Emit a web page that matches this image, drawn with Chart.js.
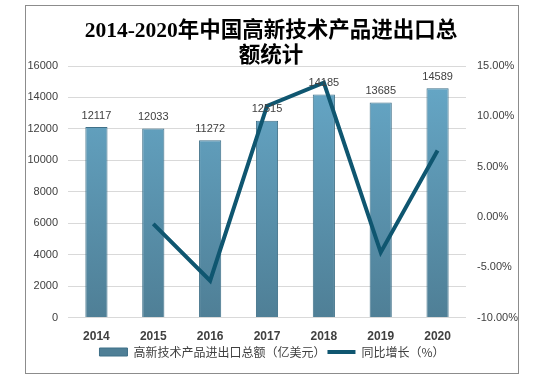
<!DOCTYPE html>
<html><head><meta charset="utf-8">
<script src="https://cdn.jsdelivr.net/npm/chart.js@4/dist/chart.umd.min.js"></script>
<style>
html,body{margin:0;padding:0;background:#fff;width:545px;height:380px;overflow:hidden}
#box{position:absolute;left:25px;top:5px;width:492px;height:367px;border:1px solid #8c8c8c;background:#fff}
</style></head><body>
<div id="box"><canvas id="c" width="492" height="367"></canvas></div>
<script>
const years = ['2014','2015','2016','2017','2018','2019','2020'];
const totalTrade = [12117,12033,11272,12515,14185,13685,14589];
const growthPct = [null,-0.69,-6.33,11.03,13.34,-3.52,6.61];
const leftTicks = [0,2000,4000,6000,8000,10000,12000,14000,16000];
const rightTicks = [-10,-5,0,5,10,15];
const titleLines = ['2014-2020年中国高新技术产品进出口总','额统计'];
const seriesNames = ['高新技术产品进出口总额（亿美元）','同比增长（%）'];

function barGrad(ctx){
  const ch = ctx.chart, a = ch.chartArea;
  if(!a) return '#5f9ab8';
  const g = ch.ctx.createLinearGradient(0,a.top,0,a.bottom);
  g.addColorStop(0,'#67a9c9');
  g.addColorStop(1,'#4f7f96');
  return g;
}
const labelPlugin = {
  id:'barLabels',
  afterDatasetsDraw(chart){
    const meta = chart.getDatasetMeta(1);
    const c = chart.ctx;
    c.save();
    c.font = '11px "Liberation Sans","Noto Sans CJK SC",sans-serif';
    c.fillStyle = '#404040';
    c.textAlign = 'center';
    c.textBaseline = 'bottom';
    meta.data.forEach((el,i)=>{ c.fillText(String(totalTrade[i]), el.x, el.y - 6); });
    c.restore();
  }
};
const titlePlugin = {
  id:'twoLineTitle',
  afterDraw(chart){
    const c = chart.ctx;
    c.save();
    c.font = 'bold 21.5px "Liberation Serif","Noto Sans CJK SC",serif';
    c.fillStyle = '#000';
    c.textAlign = 'center';
    c.textBaseline = 'middle';
    const cx = chart.width/2 - 1;
    c.fillText(titleLines[0], cx, 25);
    c.fillText(titleLines[1], cx, 50);
    c.restore();
  }
};
new Chart(document.getElementById('c'),{
  data:{
    labels:years,
    datasets:[
      {type:'line',label:seriesNames[1],data:growthPct,yAxisID:'y1',borderColor:'#0f5670',backgroundColor:'#0f5670',borderWidth:4,pointRadius:0,tension:0,order:0,pointStyle:'line'},
      {type:'bar',label:seriesNames[0],data:totalTrade,yAxisID:'y',backgroundColor:barGrad,borderColor:'#3f7088',borderWidth:1,barPercentage:0.39,categoryPercentage:1,order:1,pointStyle:'rect'}
    ]
  },
  options:{
    responsive:false,animation:false,
    layout:{padding:{left:0,right:0,top:60,bottom:5}},
    plugins:{
      title:{display:false},
      legend:{position:'bottom',reverse:true,labels:{usePointStyle:true,pointStyleWidth:28,boxHeight:8,padding:2,color:'#404040',font:{family:'"Noto Sans CJK SC",sans-serif',size:12}}},
      tooltip:{enabled:false}
    },
    scales:{
      x:{grid:{display:false},border:{display:false},afterFit(s){s.height=s.height-4;},ticks:{color:'#404040',font:{family:'"Liberation Sans",sans-serif',size:12,weight:'bold'},padding:4}},
      y:{position:'left',min:0,max:16000,afterBuildTicks(s){s.ticks=leftTicks.map(v=>({value:v}));},afterFit(s){s.width=42;},
        grid:{color:'#d9d9d9',drawTicks:false},border:{display:false},
        ticks:{color:'#404040',padding:10,font:{family:'"Liberation Sans",sans-serif',size:11},callback:v=>String(v)}},
      y1:{position:'right',min:-10,max:15,afterBuildTicks(s){s.ticks=rightTicks.map(v=>({value:v}));},afterFit(s){s.width=52;},
        grid:{display:false,drawTicks:false},border:{display:false},
        ticks:{color:'#404040',padding:11,font:{family:'"Liberation Sans",sans-serif',size:11},callback:v=>v.toFixed(2)+'%'}}
    }
  },
  plugins:[labelPlugin,titlePlugin]
});
</script></body></html>
